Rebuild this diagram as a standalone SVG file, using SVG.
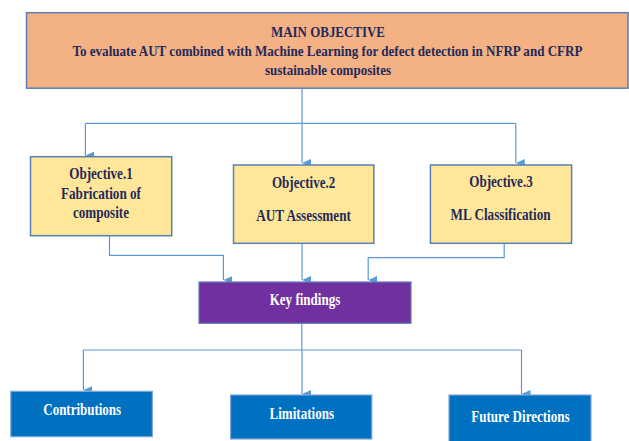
<svg xmlns="http://www.w3.org/2000/svg" width="629" height="441" viewBox="0 0 629 441">
<defs>
<marker id="ah" markerUnits="userSpaceOnUse" markerWidth="8" markerHeight="9" refX="4" refY="9" orient="auto-start-reverse" viewBox="0 0 8 9">
<path d="M0,0 L8,0 L4,9 Z" fill="#5B9BD5"/>
</marker>
<style>
.t{font-family:"Liberation Serif","Times New Roman",serif;font-weight:bold;text-anchor:middle}
.dk{fill:#1F2A5A;font-size:16px}
.mn{fill:#1F2A5A;font-size:15px}
.wh{fill:#FFFFFF;font-size:16px}
.c{fill:none;stroke:#5B9BD5;stroke-width:1.2}
</style>
</defs>
<rect width="629" height="441" fill="#FFFFFF"/>
<g id="connectors">
<path class="c" d="M302,88 V123.3 M85.4,123.3 H515.4"/>
<path class="c" d="M85.4,123.3 V155.5" marker-end="url(#ah)"/>
<path class="c" d="M302,123.3 V163" marker-end="url(#ah)"/>
<path class="c" d="M515.8,123.3 V163" marker-end="url(#ah)"/>
<path class="c" d="M109.5,236 V255.3 H223.4 V280" marker-end="url(#ah)"/>
<path class="c" d="M302,243.5 V280" marker-end="url(#ah)"/>
<path class="c" d="M504.2,243.5 V257.7 H368.2 V280" marker-end="url(#ah)"/>
<path class="c" d="M301.8,323.5 V350 M83.4,350 H521.5"/>
<path class="c" d="M83.4,350 V390" marker-end="url(#ah)"/>
<path class="c" d="M302,350 V394" marker-end="url(#ah)"/>
<path class="c" d="M521.5,350 V394" marker-end="url(#ah)"/>
</g>
<g id="main">
<rect x="26.5" y="12.7" width="601.5" height="75.5" fill="#F4B183" stroke="#5A7FB5" stroke-width="1.5"/>
<text class="t mn" x="328" y="36.5" textLength="114" lengthAdjust="spacingAndGlyphs">MAIN OBJECTIVE</text>
<text class="t mn" x="327.5" y="56" style="font-size:14px" textLength="510" lengthAdjust="spacingAndGlyphs">To evaluate AUT combined with Machine Learning for defect detection in NFRP and CFRP</text>
<text class="t mn" x="328" y="75" textLength="126" lengthAdjust="spacingAndGlyphs">sustainable composites</text>
</g>
<g id="obj1">
<rect x="30.5" y="156.7" width="141.2" height="79" fill="#FFE699" stroke="#5A7FB5" stroke-width="1.5"/>
<text class="t dk" x="101" y="179.3" textLength="63.4" lengthAdjust="spacingAndGlyphs">Objective.1</text>
<text class="t dk" x="101" y="198.5" textLength="80" lengthAdjust="spacingAndGlyphs">Fabrication of</text>
<text class="t dk" x="101" y="217.5" textLength="56" lengthAdjust="spacingAndGlyphs">composite</text>
</g>
<g id="obj2">
<rect x="233.5" y="165" width="140.3" height="78.3" fill="#FFE699" stroke="#5A7FB5" stroke-width="1.5"/>
<text class="t dk" x="303.6" y="187.7" textLength="63.4" lengthAdjust="spacingAndGlyphs">Objective.2</text>
<text class="t dk" x="303.6" y="221" textLength="94.7" lengthAdjust="spacingAndGlyphs">AUT Assessment</text>
</g>
<g id="obj3">
<rect x="430.4" y="165" width="141.2" height="78.3" fill="#FFE699" stroke="#5A7FB5" stroke-width="1.5"/>
<text class="t dk" x="501" y="187" textLength="63.4" lengthAdjust="spacingAndGlyphs">Objective.3</text>
<text class="t dk" x="500.6" y="220.3" textLength="100" lengthAdjust="spacingAndGlyphs">ML Classification</text>
</g>
<g id="keyfindings">
<rect x="199" y="282" width="212" height="41.3" fill="#7030A0" stroke="#5A7FB5" stroke-width="1.2"/>
<text class="t wh" x="305" y="305" textLength="70.6" lengthAdjust="spacingAndGlyphs">Key findings</text>
</g>
<g id="contributions">
<rect x="10.8" y="391.3" width="141.6" height="45.4" fill="#0070C0" stroke="#7FA7D3" stroke-width="1.2"/>
<text class="t wh" x="82.2" y="415" textLength="77.8" lengthAdjust="spacingAndGlyphs">Contributions</text>
</g>
<g id="limitations">
<rect x="230.6" y="395" width="141.2" height="44" fill="#0070C0" stroke="#7FA7D3" stroke-width="1.2"/>
<text class="t wh" x="301.8" y="418.7" textLength="64.6" lengthAdjust="spacingAndGlyphs">Limitations</text>
</g>
<g id="future">
<rect x="449" y="395" width="142" height="50" fill="#0070C0" stroke="#7FA7D3" stroke-width="1.2"/>
<text class="t wh" x="520.4" y="422" textLength="98.3" lengthAdjust="spacingAndGlyphs">Future Directions</text>
</g>
</svg>
